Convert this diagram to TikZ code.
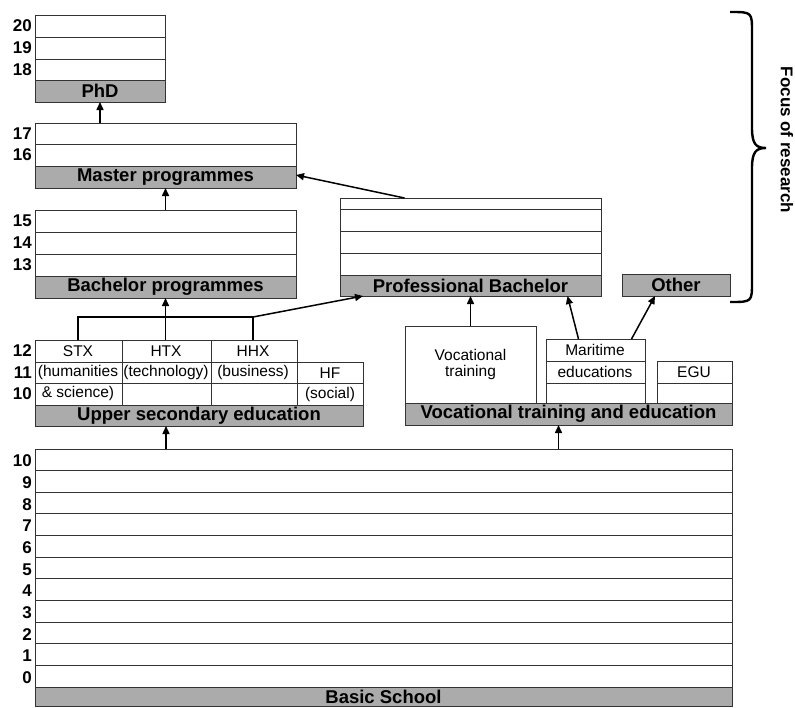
\documentclass[tikz,border=0pt]{standalone}
\usepackage{fontspec}
\setmainfont{Liberation Sans}
\usetikzlibrary{arrows.meta}

\begin{document}
\begin{tikzpicture}[x=1pt,y=-1pt,>={Triangle[length=8pt,width=7pt]},
  rows/.style={draw=black!80,line width=1pt,fill=white,inner sep=0pt,outer sep=0pt,anchor=north west},
  bar/.style={draw=black!80,line width=1pt,fill=black!33,inner sep=0pt,outer sep=0pt,anchor=north west,
    font=\fontsize{18.5}{20}\selectfont\bfseries},
  rowline/.style={draw=black!80,line width=1pt},
  txt/.style={inner sep=0pt,font=\fontsize{15.5}{16.5}\selectfont},
  yr/.style={anchor=east,inner sep=0pt,font=\fontsize{17}{17}\selectfont\bfseries},
  arr/.style={->,line width=1.5pt}]
  \useasboundingbox (0,0) rectangle (795,707);

  % PhD, master, bachelor
  \node[rows,minimum width=130,minimum height=65] (phdrows) at (35,15) {};
  \node[bar,minimum width=130,minimum height=22] (phd) at (35,80) {PhD};
  \node[rows,minimum width=261,minimum height=43] (mastrows) at (35,123) {};
  \node[bar,minimum width=261,minimum height=22] (master) at (35,166) {Master programmes};
  \node[rows,minimum width=261,minimum height=66] (bachrows) at (35,210) {};
  \node[bar,minimum width=261,minimum height=22] (bachelor) at (35,276) {Bachelor programmes};
  \foreach \k in {22,44}
    \draw[rowline] ([yshift=-\k pt]phdrows.north west) -- ([yshift=-\k pt]phdrows.north east);
  \draw[rowline] ([yshift=-21pt]mastrows.north west) -- ([yshift=-21pt]mastrows.north east);
  \foreach \k in {22,44}
    \draw[rowline] ([yshift=-\k pt]bachrows.north west) -- ([yshift=-\k pt]bachrows.north east);

  % professional bachelor and other
  \node[rows,minimum width=261,minimum height=77] (profrows) at (340,198) {};
  \node[bar,minimum width=261,minimum height=21] (profbach) at (340,275) {Professional Bachelor};
  \foreach \k in {11,33,55}
    \draw[rowline] ([yshift=-\k pt]profrows.north west) -- ([yshift=-\k pt]profrows.north east);
  \node[bar,minimum width=108,minimum height=22] (other) at (622,274) {Other};

  % upper secondary
  \node[rows,minimum width=262,minimum height=65] (upperrows) at (35,340) {};
  \node[rows,minimum width=66,minimum height=43] (hfrows) at (297,362) {};
  \node[bar,minimum width=328,minimum height=21] (upper) at (35,405) {Upper secondary education};
  \draw[rowline] ([yshift=-22pt]upperrows.north west) -- (hfrows.north east);
  \draw[rowline] ([yshift=-43pt]upperrows.north west) -- ([yshift=-21pt]hfrows.north east);
  \foreach \k in {87,176}
    \draw[rowline] ([xshift=\k pt]upperrows.north west) -- ([xshift=\k pt]upperrows.south west);
  \node[txt] (stx) at (78,351) {STX};
  \node[txt] (stxb) at (78,372) {(humanities};
  \node[txt] (stxc) at (78,393) {\& science)};
  \node[txt] (htx) at (166,351) {HTX};
  \node[txt] (htxb) at (166,372) {(technology)};
  \node[txt] (hhx) at (253,351) {HHX};
  \node[txt] (hhxb) at (253,372) {(business)};
  \node[txt] (hf) at (330,373) {HF};
  \node[txt] (hfb) at (330,394) {(social)};

  % vocational
  \node[rows,minimum width=131,minimum height=77] (vocrows) at (405,326) {};
  \node[txt,align=center] (voc) at (vocrows.center) {Vocational\\training};
  \node[rows,minimum width=99,minimum height=64] (marrows) at (546,339) {};
  \node[rows,minimum width=75,minimum height=42] (egurows) at (657,361) {};
  \foreach \k in {22,44}
    \draw[rowline] ([yshift=-\k pt]marrows.north west) -- ([yshift=-\k pt]marrows.north east);
  \draw[rowline] ([yshift=-22pt]egurows.north west) -- ([yshift=-22pt]egurows.north east);
  \node[txt] (mar) at (595,350) {Maritime};
  \node[txt] (marb) at (595,372) {educations};
  \node[txt] (egu) at (694,372) {EGU};
  \node[bar,minimum width=327,minimum height=22] (voced) at (405,403) {Vocational training and education};

  % basic school
  \node[rows,minimum width=697,minimum height=238] (basicrows) at (35,449) {};
  \node[bar,minimum width=697,minimum height=19] (basic) at (35,687) {Basic School};
  \foreach \k in {1,...,10}
    \draw[rowline] ([yshift=-\k*21.64pt]basicrows.north west) -- ([yshift=-\k*21.64pt]basicrows.north east);

  % year numbers
  \foreach \n/\y in {20/26,19/48,18/70,17/134,16/155,15/221,14/243,13/265,12/351,11/373,10/394}
    \node[yr] (ya\n) at (32,\y) {\n};
  \foreach \n in {0,...,10}
    \node[yr] (yb\n) at (32,{677.5-\n*21.64}) {\n};

  % connectors
  \coordinate (jstx) at (78,317);
  \coordinate (jhhx) at (253,317);
  \draw[line width=1.5pt] (upperrows.north -| jstx) -- (jstx) -- (jhhx) -- (upperrows.north -| jhhx);
  \draw[arr] (upperrows.north -| bachelor.south) -- (bachelor.south);
  \draw[arr] (jhhx) -- ([xshift=23pt]profbach.south west);
  \draw[arr] (mastrows.north -| phd.south) -- (phd.south);
  \draw[arr] (bachrows.north) -- (master.south);
  \draw[arr] ([xshift=-66pt]profrows.north) -- ([yshift=2pt]master.east);
  \draw[arr] (vocrows.north) -- (profbach.south -| vocrows.north);
  \draw[arr] ([xshift=-17pt]marrows.north) -- ([xshift=97pt]profbach.south);
  \draw[arr] ([xshift=36pt]marrows.north) -- ([xshift=-21pt]other.south);
  \draw[arr] (basicrows.north -| htx) -- (upper.south -| htx);
  \draw[arr] ([xshift=-10pt]basicrows.north -| voced.south) -- ([xshift=-10pt]voced.south);

  % focus of research
  \draw[line width=2.4pt] (730,12) .. controls (752,12) .. (752,32) -- (752,128)
    .. controls (752,144) and (756,148) .. (766,148) .. controls (756,148) and (752,152) .. (752,168) -- (752,282)
    .. controls (752,302) .. (730,302);
  \node[rotate=-90,inner sep=0pt,font=\fontsize{17}{17}\selectfont\bfseries] (focus) at (787,140) {Focus of research};
\end{tikzpicture}
\end{document}
